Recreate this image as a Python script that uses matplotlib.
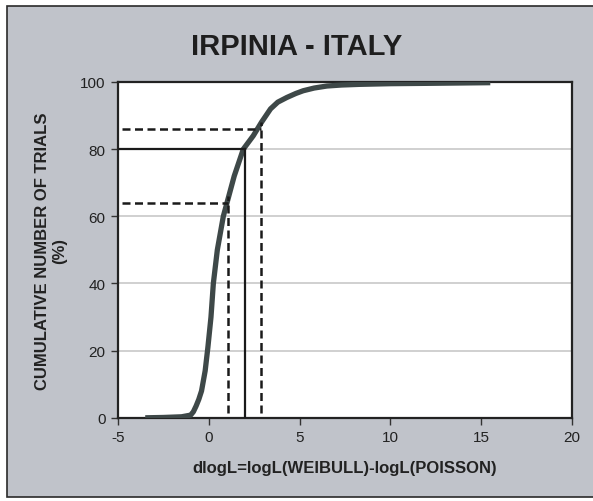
import matplotlib.pyplot as plt
from matplotlib.patches import Rectangle

# Kumulative Verteilung von dlogL (Irpinia)
dlogl = [-3.5, -2.5, -1.5, -1.0, -0.85, -0.7, -0.55, -0.4, -0.2, -0.05,
         0.12, 0.25, 0.47, 0.8, 1.0, 1.4, 1.9, 2.45, 2.9, 3.4, 3.8, 4.3,
         4.8, 5.2, 5.8, 6.5, 7.3, 8.3, 10.0, 12.0, 15.5]
cum_pct = [0.0, 0.1, 0.3, 0.8, 1.8, 3.5, 5.5, 8.0, 14.0, 21.0,
           30.0, 40.0, 50.0, 60.0, 64.0, 72.0, 80.0, 84.0, 88.0, 92.0, 94.0,
           95.4, 96.6, 97.4, 98.2, 98.8, 99.1, 99.3, 99.5, 99.6, 99.8]

# Markierungen: (Prozent, dlogL)
solid_mark = (80, 2.0)
dashed_marks = [(64, 1.04), (86, 2.9)]

x_ticks = [-5, 0, 5, 10, 15, 20]
y_ticks = [0, 20, 40, 60, 80, 100]

plt.rcParams['font.family'] = ['Liberation Sans', 'DejaVu Sans']
plt.rcParams['axes.unicode_minus'] = False

fig = plt.figure(figsize=(5.93, 5.02), dpi=100, facecolor='white')

# grauer Rahmen um die ganze Grafik
frame = Rectangle((7 / 593, 4 / 502), 1.0, 1 - 11 / 502,
                  transform=fig.transFigure, facecolor='#c0c3ca',
                  edgecolor='#2a2a2a', linewidth=1.2, zorder=-10)
fig.patches.append(frame)

ax = fig.add_axes([118 / 593, 83.2 / 502, 454 / 593, 335.8 / 502])
ax.set_facecolor('white')

ax.set_xlim(-5, 20)
ax.set_ylim(0, 100)
ax.set_xticks(x_ticks)
ax.set_yticks(y_ticks)
ax.tick_params(direction='out', length=5, width=1, colors='#333333',
               labelsize=11, labelcolor='#222222', pad=4)
ax.yaxis.grid(True, color='#c8c8c8', linewidth=1.2)
ax.set_axisbelow(True)
for side in ax.spines.values():
    side.set_color('#222222')
    side.set_linewidth(1.6)

# Verteilungskurve
ax.plot(dlogl, cum_pct, color='#3e4848', linewidth=3.8,
        solid_capstyle='butt', solid_joinstyle='round', zorder=3)

# Hilfslinien
pct, xv = solid_mark
ax.plot([-5, xv], [pct, pct], color='#1a1a1a', linewidth=1.6, zorder=4)
ax.plot([xv, xv], [0, pct], color='#1a1a1a', linewidth=1.6, zorder=4)
for pct, xv in dashed_marks:
    ax.plot([-4.8, xv], [pct, pct], color='#1a1a1a', linewidth=1.8,
            linestyle=(0, (3.2, 1.8)), zorder=4)
    ax.plot([xv, xv], [1.5, pct + 2], color='#1a1a1a', linewidth=1.8,
            linestyle=(0, (3.2, 1.8)), zorder=4)

ax.set_xlabel('dlogL=logL(WEIBULL)-logL(POISSON)', fontsize=12,
              fontweight='bold', color='#222222', labelpad=11)
ax.set_ylabel('CUMULATIVE NUMBER OF TRIALS\n(%)', fontsize=12,
              fontweight='bold', color='#222222', labelpad=9,
              linespacing=1.2)

fig.text(0.5, 1 - 47 / 502, 'IRPINIA - ITALY', fontsize=21,
         fontweight='bold', color='#1e1e1e', ha='center', va='center')

plt.savefig('out.png', dpi=100, facecolor='white')
